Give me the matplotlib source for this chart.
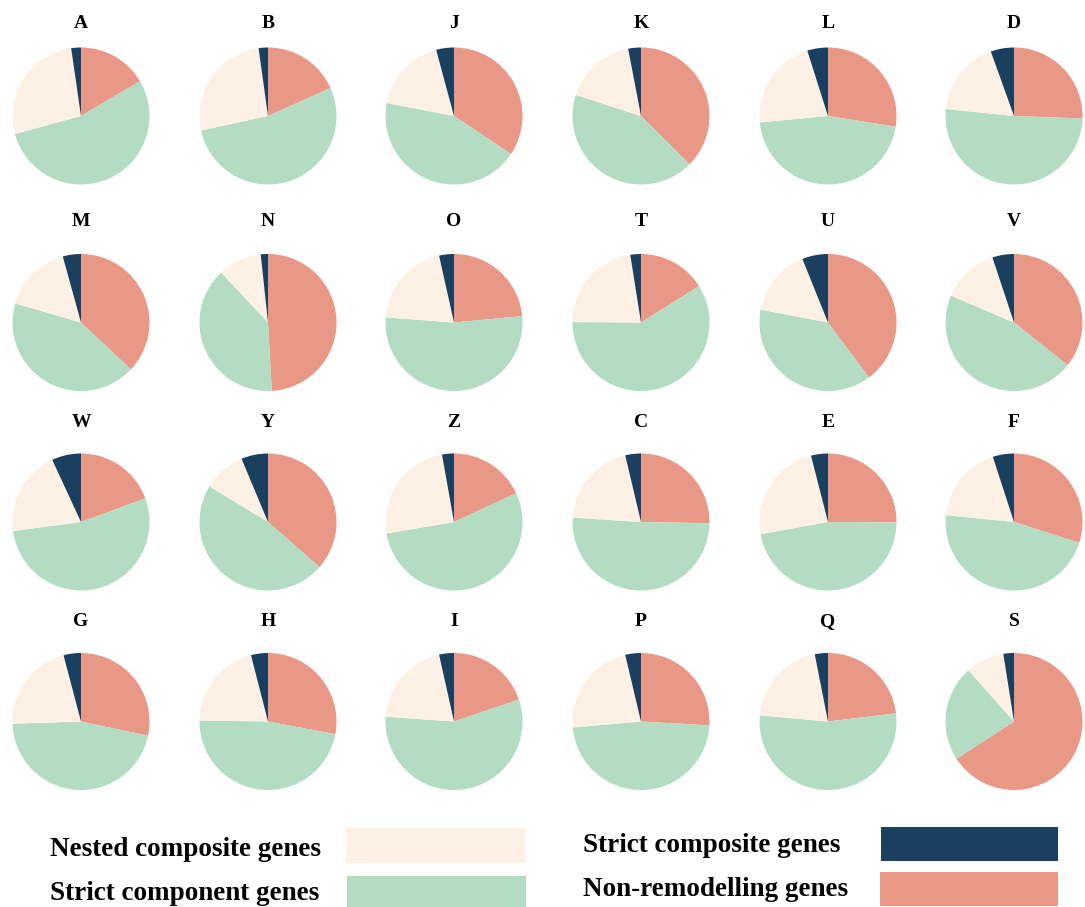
import matplotlib
matplotlib.use("Agg")
import matplotlib.pyplot as plt
from matplotlib.patches import Rectangle

# ---- data (percentages) ----
labels = ["A", "B", "J", "K", "L", "D",
          "M", "N", "O", "T", "U", "V",
          "W", "Y", "Z", "C", "E", "F",
          "G", "H", "I", "P", "Q", "S"]
non_remodelling = [16.5, 18.3, 34.4, 37.4, 27.6, 25.6,
                   37.2, 49.1, 23.5, 16.1, 39.8, 35.7,
                   19.4, 36.4, 18.1, 25.3, 25.1, 29.9,
                   28.3, 28.0, 19.8, 25.9, 23.1, 65.9]
strict_component = [54.2, 53.3, 43.7, 42.5, 46.2, 51.1,
                    42.7, 38.9, 52.7, 59.0, 38.2, 45.7,
                    53.5, 47.2, 54.2, 50.8, 47.1, 46.7,
                    46.1, 47.3, 56.3, 47.7, 53.4, 22.6]
nested_composite = [26.9, 26.2, 17.8, 17.0, 21.7, 17.9,
                    16.3, 10.3, 20.3, 22.4, 15.9, 13.5,
                    20.2, 10.0, 24.9, 20.3, 23.9, 18.4,
                    21.4, 20.8, 20.4, 22.7, 20.5, 9.1]
strict_composite = [2.3, 2.2, 4.2, 3.0, 4.9, 5.5,
                    4.3, 1.7, 3.5, 2.5, 6.1, 5.1,
                    6.9, 6.3, 2.8, 3.7, 4.0, 5.0,
                    4.1, 4.0, 3.5, 3.7, 3.1, 2.5]

legend_labels = ["Nested composite genes", "Strict component genes",
                 "Strict composite genes", "Non-remodelling genes"]

c_non = "#E99787"
c_comp = "#B3DCC3"
c_nest = "#FDF1E5"
c_strict = "#1B3F5F"

serif = ["Liberation Serif", "DejaVu Serif"]

W, H = 1085, 907
fig = plt.figure(figsize=(W / 100, H / 100), dpi=100)
fig.patch.set_facecolor("white")

col_x = [81, 268, 454, 641, 828, 1014]
row_y = [116, 322.5, 522, 721.5]
title_y = [23, 222, 422, 622]
r = 68.5

for i, lab in enumerate(labels):
    row, col = divmod(i, 6)
    cx, cy = col_x[col], row_y[row]
    ax = fig.add_axes([(cx - r) / W, 1 - (cy + r) / H, 2 * r / W, 2 * r / H])
    vals = [non_remodelling[i], strict_component[i], nested_composite[i], strict_composite[i]]
    ax.pie(vals, colors=[c_non, c_comp, c_nest, c_strict], startangle=90,
           counterclock=False, wedgeprops=dict(linewidth=0))
    ax.set_xlim(-1, 1)
    ax.set_ylim(-1, 1)
    ax.set_aspect("equal")
    ax.axis("off")
    fig.text(cx / W, 1 - title_y[row] / H, lab, ha="center", va="center",
             fontsize=14, fontweight="bold", family=serif)

# ---- legend ----
leg_items = [
    (legend_labels[0], c_nest, 50, 849, (346, 828, 526, 863)),
    (legend_labels[1], c_comp, 50, 893, (347, 876, 526, 912)),
    (legend_labels[2], c_strict, 583, 846, (881, 827, 1058, 861)),
    (legend_labels[3], c_non, 583, 889, (880, 872, 1058, 906)),
]
for text, color, tx, ty, (x0, y0, x1, y1) in leg_items:
    fig.text(tx / W, 1 - ty / H, text, ha="left", va="center",
             fontsize=19.5, fontweight="bold", family=serif)
    fig.patches.append(Rectangle((x0 / W, 1 - y1 / H), (x1 - x0) / W, (y1 - y0) / H,
                                 transform=fig.transFigure, facecolor=color,
                                 edgecolor="none", figure=fig))

fig.savefig("out.png", dpi=100)
